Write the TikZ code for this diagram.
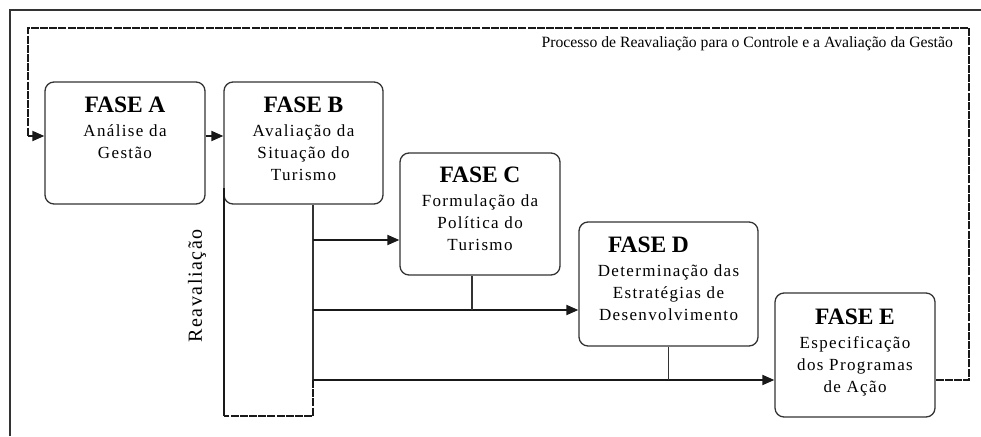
\documentclass[tikz,border=0pt]{standalone}
\usepackage{fontspec}
\setmainfont{Liberation Serif}
\newfontfamily\spaced[LetterSpace=8]{Liberation Serif}
\newfontfamily\spacedwide[LetterSpace=8]{Liberation Serif}
\usetikzlibrary{arrows.meta,calc}

\tikzset{
  phase/.style={draw=black!80, line width=1.3pt, rounded corners=9pt,
    inner sep=0pt, fill=white},
  txt/.style={anchor=base, inner sep=0pt, text width=176pt, align=center,
    font=\fontsize{17}{22}\selectfont\spaced},
  frame/.style={draw=black!80, line width=2.2pt},
  feedback/.style={draw=black!90, line width=2pt, dash pattern=on 8pt off 1.2pt},
  flow/.style={draw=black!90, line width=1.8pt,
    -{Triangle[length=12pt,width=10pt]}},
  stem/.style={draw=black!80, line width=1.1pt},
}
\newcommand{\phasehead}[1]{{\rmfamily\fontsize{23.5}{24}\selectfont\bfseries #1}\\[2pt]}

\begin{document}
\begin{tikzpicture}[x=1pt,y=-1pt]
\useasboundingbox (0,0) rectangle (981,436);

% outer frame (only its top and left sides show)
\draw[frame] (10,436) -- (10,10) -- (981,10);

% phase boxes
\node[phase, minimum width=160pt, minimum height=122pt] (A) at (125,143) {};
\node[phase, minimum width=159pt, minimum height=122pt] (B) at (303.5,143) {};
\node[phase, minimum width=160pt, minimum height=122pt] (C) at (480,214) {};
\node[phase, minimum width=179pt, minimum height=124pt] (D) at (668.5,284) {};
\node[phase, minimum width=160pt, minimum height=124pt] (E) at (855,355) {};

% box texts
\node[txt] (tA) at ($(A.north)+(0,31)$) {\phasehead{FASE A}An\'alise da\\Gest\~ao};
\node[txt] (tB) at ($(B.north)+(0,31)$) {\phasehead{FASE B}Avalia\c{c}\~ao da\\Situa\c{c}\~ao do\\Turismo};
\node[txt] (tC) at ($(C.north)+(0,30)$) {\phasehead{FASE C}Formula\c{c}\~ao da\\Pol\'itica do\\Turismo};
\node[txt] (tD) at ($(D.north)+(0,31)$) {\phasehead{\hspace*{-40pt}FASE D}Determina\c{c}\~ao das\\Estrat\'egias de\\Desenvolvimento};
\node[txt] (tE) at ($(E.north)+(0,32)$) {\phasehead{FASE E}Especifica\c{c}\~ao\\dos Programas\\de A\c{c}\~ao};

% reference levels for the connectors
\coordinate (loopTL) at (28,28);
\coordinate (loopTR) at (969,28);
\coordinate (rowAB) at (0,136);
\coordinate (rowC) at (0,240);
\coordinate (rowD) at (0,310);
\coordinate (rowE) at (0,380);
\coordinate (trunk) at (313,0);
\coordinate (leftbar) at (224,188);
\coordinate (barbottom) at (0,416);
\coordinate (feedin) at (28,136);
\coordinate (cstem) at ($(C.south)+(-8,0)$);

% reassessment loop back to phase A
\draw[feedback] (E.east |- rowE) -| (loopTR) -- (loopTL) -- (feedin);
\draw[flow] (feedin) -- (A.west |- rowAB);
\draw[flow] (A.east |- rowAB) -- (B.west |- rowAB);

% reassessment frame below phase B
\draw[stem, line width=1.3pt] (trunk |- B.south) -- (trunk |- rowE);
\draw[feedback] (trunk |- rowE) -- (trunk |- barbottom) -- (leftbar |- barbottom);
\draw[draw=black!90, line width=2.2pt] (leftbar |- barbottom) -- (leftbar);

% branches to phases C, D, E
\draw[flow] (trunk |- rowC) -- (C.west |- rowC);
\draw[flow] (trunk |- rowD) -- (D.west |- rowD);
\draw[flow] (trunk |- rowE) -- (E.west |- rowE);
\draw[stem] (cstem) -- (cstem |- rowD);
\draw[stem] (D.south) -- (D.south |- rowE);

% labels
\node[anchor=base east, inner sep=0pt, font=\fontsize{15.7}{18}\selectfont] (loopLabel) at (953,48)
  {Processo de Reavalia\c{c}\~ao para o Controle e a Avalia\c{c}\~ao da Gest\~ao};
\node[rotate=90, inner sep=0pt, font=\fontsize{20}{22}\selectfont\spacedwide] (reLabel) at (197,286)
  {Reavalia\c{c}\~ao};
\end{tikzpicture}
\end{document}
